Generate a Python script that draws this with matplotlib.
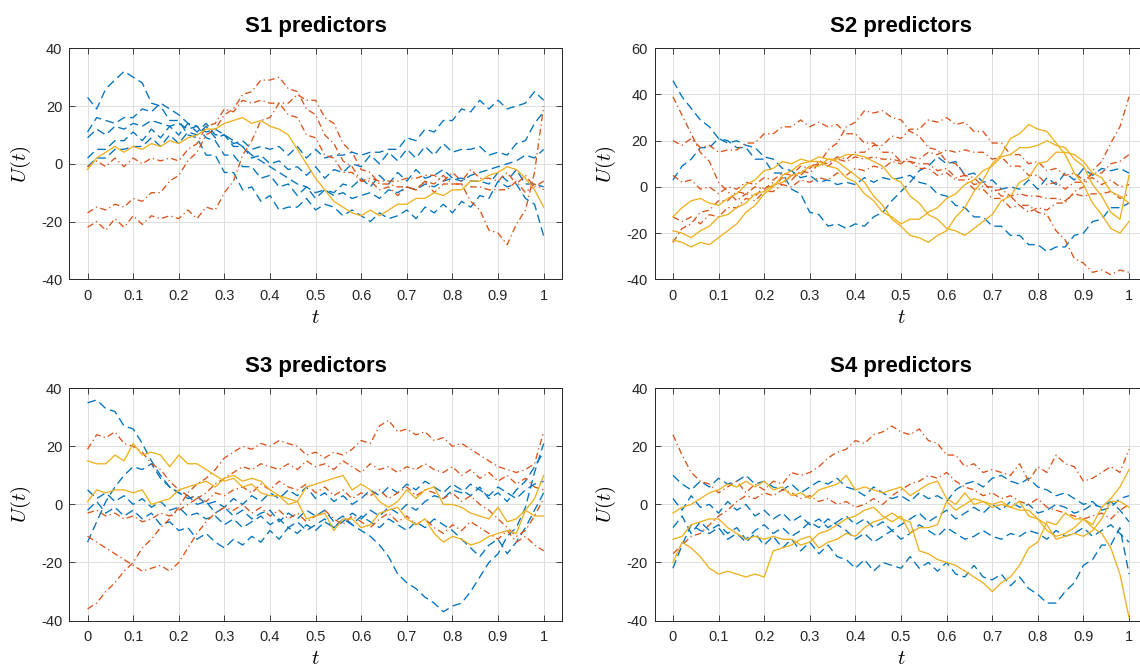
import numpy as np
import matplotlib
matplotlib.use('Agg')
import matplotlib.pyplot as plt

plt.rcParams['font.family'] = ['Liberation Sans', 'DejaVu Sans']
plt.rcParams['mathtext.fontset'] = 'cm'
plt.rcParams['axes.unicode_minus'] = False

BLUE = '#0072BD'
ORANGE = '#D95319'
YELLOW = '#EDB120'

titles = ['S1 predictors', 'S2 predictors', 'S3 predictors', 'S4 predictors']
xticks = [0, 0.1, 0.2, 0.3, 0.4, 0.5, 0.6, 0.7, 0.8, 0.9, 1.0]
xtick_labels = ['0', '0.1', '0.2', '0.3', '0.4', '0.5', '0.6', '0.7', '0.8', '0.9', '1']
yticks_s1 = [-40, -20, 0, 20, 40]
yticks_s2 = [-40, -20, 0, 20, 40, 60]

# ---------------- S1 ----------------
s1_blue = [
    [23, 19, 26, 29, 32, 30, 28, 21, 20, 15, 15, 10, 9, 3, 3, -3, -3, -9, -8, -13, -11, -16, -15, -15, -12, -16, -14, -15, -18, -16,
     -18, -20, -17, -19, -18, -16, -19, -15, -17, -14, -17, -13, -15, -11, -12, -6, -8, -7, -12, -14, -25],
    [11, 16, 15, 14, 16, 16, 19, 18, 21, 19, 17, 14, 13, 9, 8, 3, 3, -1, -1, -5, -4, -8, -7, -11, -8, -12, -9, -10, -7, -8,
     -5, -8, -4, -7, -3, -6, -2, -5, -4, -2, -5, -5, -6, -6, -7, -3, -6, -2, -7, -7, -8],
    [2, 5, 5, 8, 8, 11, 8, 12, 9, 13, 10, 14, 11, 14, 10, 10, 6, 6, 2, 3, 0, 1, -2, -1, -4, -1, -5, -2, -3, 0,
     -1, 3, 0, 4, 1, 5, 2, 6, 3, 7, 4, 5, 5, 6, 3, 4, 3, 7, 8, 14, 18],
    [-1, 2, 2, 5, 5, 6, 6, 9, 6, 10, 7, 11, 10, 13, 9, 10, 7, 8, 5, 6, 5, 6, 3, 6, 2, 5, 2, 3, 3, 4,
     3, 4, 4, 5, 5, 9, 8, 12, 11, 15, 15, 19, 18, 22, 19, 22, 19, 20, 21, 25, 22],
    [9, 12, 10, 13, 12, 14, 13, 15, 14, 13, 14, 12, 13, 11, 12, 10, 8, 6, 3, 1, -1, -3, -5, -7, -8, -10, -9, -11, -10, -12,
     -11, -10, -12, -9, -10, -8, -9, -7, -8, -6, -5, -6, -4, -3, -2, -1, 0, 1, 3, 2, 5],
]
s1_orange = [
    [-17, -15, -16, -14, -15, -12, -13, -10, -10, -6, -4, 1, 4, 10, 12, 17, 19, 24, 25, 29, 29, 30, 26, 25, 19, 17, 10, 7, 1, -1,
     -6, -6, -9, -8, -11, -8, -9, -6, -7, -4, -7, -7, -13, -16, -23, -24, -28, -21, -16, -3, 20],
    [-1, 1, -1, 2, -1, 2, 0, 2, 1, 2, 1, 5, 7, 13, 14, 19, 18, 22, 21, 22, 21, 21, 17, 16, 10, 9, 3, 2, -3, -3,
     -6, -5, -6, -6, -6, -5, -5, -4, -4, -6, -3, -6, -2, -5, -5, -6, -3, -7, -4, -8, -6],
    [-22, -20, -23, -19, -22, -18, -21, -18, -19, -18, -19, -16, -19, -15, -16, -10, -6, 3, 8, 15, 16, 21, 21, 24, 22, 22, 16, 14, 7, 4,
     -2, -3, -7, -7, -8, -8, -9, -6, -10, -7, -7, -7, -8, -8, -9, -9, -9, -6, -10, -7, -9],
]
s1_yellow = [
    [-2, 2, 4, 6, 4, 6, 5, 7, 6, 8, 7, 9, 10, 12, 12, 14, 15, 16, 14, 15, 13, 12, 10, 5, 0, -5, -9, -13, -15, -17,
     -18, -16, -18, -16, -14, -14, -12, -12, -10, -11, -9, -9, -6, -6, -4, -3, -1, -2, -5, -9, -15],
]

# ---------------- S2 ----------------
s2_blue = [
    [46, 39, 34, 29, 26, 21, 20, 17, 17, 12, 12, 6, 6, -1, -3, -11, -12, -17, -16, -18, -16, -17, -13, -11, -6, -2, 2, 7, 9, 13,
     10, 11, 5, 6, 2, 3, -1, 0, -1, 3, -1, 4, 1, 6, 3, 8, 5, 8, 7, 8, 6],
    [3, 9, 12, 17, 17, 21, 19, 20, 18, 17, 13, 12, 8, 7, 4, 5, 2, 3, 1, 2, 1, 4, 2, 4, 3, 4, 5, 2, 1, -3,
     -4, -8, -9, -13, -13, -17, -17, -21, -21, -25, -25, -28, -26, -26, -21, -20, -15, -14, -9, -9, -7],
]
s2_orange = [
    [39, 31, 23, 15, 11, 2, -2, -6, -3, -4, 0, 0, 4, 3, 7, 6, 10, 9, 12, 11, 13, 12, 13, 12, 12, 11, 11, 10, 10, 7,
     8, 4, 5, 1, 2, -2, -1, -4, -3, -4, -4, -5, -5, -6, -3, -4, -3, -3, -2, -5, -3],
    [-24, -18, -16, -11, -10, -6, -6, -2, -3, 0, -1, 2, 1, 5, 5, 9, 10, 16, 19, 26, 28, 33, 32, 33, 30, 29, 24, 22, 17, 16,
     11, 10, 5, 4, 0, 0, -4, -4, -8, -8, -11, -12, -19, -23, -31, -33, -37, -36, -38, -36, -37],
    [20, 18, 21, 17, 18, 15, 16, 16, 19, 19, 23, 23, 26, 26, 29, 26, 28, 26, 27, 23, 23, 19, 19, 15, 15, 11, 11, 8, 8, 5,
     6, 3, 3, -1, -1, -5, -5, -9, -8, -11, -9, -10, -7, -7, -2, 0, 7, 11, 19, 26, 39],
    [5, 2, 3, -1, 0, -3, 0, -1, 2, 1, 4, 3, 6, 5, 9, 8, 11, 10, 13, 12, 15, 15, 18, 18, 22, 21, 25, 25, 29, 28,
     30, 27, 28, 24, 24, 19, 19, 14, 14, 10, 11, 7, 8, 5, 6, 3, 4, 1, 3, 0, 1],
    [-13, -15, -13, -16, -12, -13, -9, -9, -5, -6, -2, -2, 1, 0, 3, 2, 4, 3, 6, 5, 8, 7, 9, 8, 11, 10, 13, 12, 15, 14,
     16, 15, 16, 15, 15, 12, 13, 9, 9, 5, 5, 1, 2, -1, 2, 2, 6, 6, 10, 11, 14],
]
s2_yellow = [
    [-23, -24, -26, -24, -25, -22, -19, -16, -11, -8, -3, 0, 5, 7, 10, 11, 13, 12, 11, 8, 5, 2, -4, -8, -14, -17, -21, -22, -24, -21,
     -19, -13, -9, -2, 3, 10, 14, 21, 23, 27, 25, 24, 19, 14, 6, 1, -7, -12, -18, -20, -15],
    [-13, -9, -6, -5, -7, -8, -5, -3, 1, 3, 7, 8, 11, 10, 12, 11, 11, 9, 8, 4, 2, -3, -6, -11, -13, -16, -14, -14, -11, -9,
     -5, -3, 1, 3, 7, 9, 13, 14, 17, 17, 18, 20, 18, 17, 12, 9, 1, -4, -11, -14, 5],
    [-19, -20, -22, -19, -17, -13, -12, -9, -7, -3, -2, 1, 2, 5, 6, 9, 9, 12, 12, 14, 14, 13, 11, 9, 4, 2, -4, -7, -12, -14,
     -18, -19, -21, -18, -15, -12, -6, -4, 2, 4, 10, 11, 15, 15, 14, 11, 6, 4, -2, -4, -7],
]

# ---------------- S3 ----------------
s3_blue = [
    [35, 36, 33, 32, 27, 26, 21, 15, 10, 6, 4, 3, 0, 1, -3, -1, -4, -2, -5, -3, -2, -6, -3, -5, -2, -4, -2, -6, -4, -7,
     -9, -11, -14, -18, -24, -27, -29, -32, -34, -37, -35, -34, -30, -25, -20, -17, -11, -8, -1, 11, 21],
    [-13, -6, 1, 6, 10, 13, 12, 14, 9, 6, 4, 2, 3, 0, 1, -1, 2, 0, 3, 1, 4, 2, 5, 3, 6, 2, 4, 1, 3, 0,
     2, 5, 3, 6, 4, 7, 5, 8, 6, 4, 7, 5, 3, 6, 2, 4, 1, 5, 8, 13, 18],
    [5, 2, 4, 1, 3, 0, 2, -1, 1, -2, -1, -4, -3, -5, -4, -7, -5, -8, -6, -4, -7, -5, -8, -6, -9, -7, -5, -8, -6, -3,
     -5, -2, -4, -1, -3, 0, -2, 1, 3, 2, 5, 4, 7, 5, 3, 6, 4, 2, 5, 7, 8],
    [-2, 1, -3, -1, -4, -2, -5, -3, -7, -6, -9, -8, -12, -10, -13, -15, -12, -14, -11, -13, -9, -12, -8, -10, -7, -9, -6, -8, -5, -7,
     -4, -6, -8, -5, -7, -9, -6, -8, -5, -7, -9, -12, -15, -18, -14, -12, -17, -13, -8, -2, 4],
]
s3_orange = [
    [-36, -34, -30, -27, -23, -20, -15, -12, -8, -5, -1, 4, 7, 9, 12, 16, 18, 20, 19, 21, 20, 22, 21, 20, 17, 18, 16, 18, 17, 19,
     22, 21, 27, 29, 25, 26, 24, 25, 22, 23, 20, 21, 19, 17, 15, 13, 12, 11, 12, 14, 25],
    [19, 24, 23, 25, 21, 20, 18, 14, 12, 8, 5, 3, 2, 4, 7, 9, 11, 13, 12, 14, 13, 12, 14, 12, 15, 13, 14, 12, 15, 13,
     11, 14, 12, 13, 11, 13, 12, 14, 12, 11, 13, 10, 12, 9, 11, 8, 10, 7, 9, 6, 5],
    [-3, -2, -4, -3, -5, -4, -6, -5, -3, -4, -2, 0, 2, 1, 4, 3, 5, 6, 4, 7, 5, 8, 6, 5, 7, 4, 6, 3, 5, 2,
     4, 3, 5, 2, 4, 6, 3, 5, 4, 2, 4, 1, 3, 0, -2, -5, -8, -11, -9, -4, 2],
    [-11, -13, -15, -17, -19, -21, -23, -22, -21, -23, -20, -15, -10, -6, -3, -1, -2, 0, -3, -1, -4, -2, -5, -3, -6, -4, -2, -5, -7, -4,
     -6, -8, -5, -3, -6, -4, -7, -5, -8, -10, -7, -9, -6, -8, -10, -12, -9, -13, -11, -14, -16],
]
s3_yellow = [
    [15, 14, 14, 17, 15, 21, 17, 18, 17, 13, 17, 14, 14, 12, 10, 8, 9, 6, 7, 4, 3, 3, 0, 1, 6, 7, 8, 9, 10, 5,
     7, 5, 1, -1, 1, 5, 2, 5, 6, 0, 0, -1, -3, -4, -5, -1, -6, -5, -2, -4, -4],
    [1, 5, 4, 5, 5, 4, 5, 0, 1, 2, 5, 6, 7, 8, 6, 9, 10, 8, 9, 8, 5, 3, 2, 1, -5, -4, -3, -9, -5, -5,
     -8, -7, -3, -2, -1, -5, -7, -5, -10, -13, -11, -12, -14, -13, -11, -10, -9, -10, -2, 2, 10],
]

# ---------------- S4 ----------------
s4_blue = [
    [10, 7, 5, 8, 6, 9, 7, 8, 10, 7, 8, 6, 5, 7, 4, 6, 8, 7, 9, 6, 5, 3, 6, 4, 2, 3, 1, 4, 2, 3,
     1, 5, 7, 8, 6, 9, 10, 8, 7, 9, 6, 5, 3, 4, 2, 0, 1, -2, -1, 2, 3],
    [2, -2, 3, -1, 0, -3, 1, -2, 0, -4, -2, -5, -3, -6, -4, -7, -5, -8, -6, -4, -7, -5, -8, -6, -9, -7, -5, -3, -6, -4,
     -2, -5, -3, -1, -3, 0, -2, 1, -1, 0, -3, -2, 0, -1, -3, -2, 0, -1, 1, -2, -6],
    [-8, -4, -10, -6, -9, -7, -10, -8, -12, -9, -7, -10, -8, -11, -9, -6, -8, -5, -7, -9, -12, -10, -13, -11, -9, -12, -10, -7, -9, -11,
     -8, -10, -12, -11, -9, -11, -12, -10, -11, -9, -10, -12, -9, -11, -10, -8, -11, -9, -7, -10, -13],
    [-22, -14, -7, -9, -10, -8, -12, -10, -13, -10, -14, -11, -15, -12, -16, -13, -17, -14, -18, -19, -22, -19, -23, -20, -21, -22, -18, -22, -20, -23,
     -20, -24, -25, -21, -25, -26, -24, -28, -25, -29, -31, -34, -34, -30, -27, -21, -19, -14, -14, -8, -24],
]
s4_orange = [
    [24, 17, 11, 8, 7, 4, 6, 8, 4, 7, 5, 8, 7, 11, 10, 11, 13, 16, 18, 19, 22, 21, 24, 25, 27, 25, 24, 26, 22, 21,
     17, 17, 13, 14, 11, 12, 11, 10, 14, 8, 13, 11, 17, 14, 13, 8, 9, 11, 13, 11, 19],
    [-17, -14, -11, -10, -7, -4, -2, 1, 3, 2, 4, 3, 5, 4, 2, 3, 1, 2, 0, 1, -1, 0, 2, 0, 3, 5, 7, 8, 10, 9,
     11, 8, 6, 5, 3, 4, 2, 3, 1, 0, 2, -1, -2, -3, -4, -5, -4, -3, -5, -2, 0],
]
s4_yellow = [
    [-3, -1, 0, 2, 4, 5, 7, 6, 8, 6, 8, 5, 6, 3, 4, 2, 5, 6, 7, 10, 5, 6, 5, 4, 5, 6, 3, 5, 7, 8,
     2, 0, 4, 0, 1, 0, 1, -1, 1, -4, -5, -9, -11, -10, -8, -5, -7, -1, 2, 6, 12],
    [-12, -11, -7, -6, -5, -5, -8, -10, -12, -11, -12, -11, -12, -12, -14, -13, -10, -9, -7, -5, -4, -2, -1, -4, -6, -4, -10, -8, -8, -7,
     1, -2, 0, 2, 1, -1, 0, -1, -2, -2, -5, -7, -12, -11, -10, -11, -9, -5, 1, 1, -1],
    [-20, -13, -15, -18, -22, -24, -23, -24, -25, -24, -25, -16, -15, -14, -12, -11, -15, -13, -12, -10, -11, -8, -6, -5, -3, -5, -6, -16, -17, -19,
     -20, -21, -23, -25, -27, -30, -27, -25, -21, -15, -13, -6, -7, -3, -5, -5, -8, -10, -15, -24, -39],
]

panels = [
    (titles[0], s1_blue, s1_orange, s1_yellow, (-40, 40), yticks_s1),
    (titles[1], s2_blue, s2_orange, s2_yellow, (-40, 60), yticks_s2),
    (titles[2], s3_blue, s3_orange, s3_yellow, (-40, 40), yticks_s1),
    (titles[3], s4_blue, s4_orange, s4_yellow, (-40, 40), yticks_s1),
]

positions = [
    [0.0608, 0.5819, 0.4321, 0.3458],
    [0.5743, 0.5819, 0.4321, 0.3458],
    [0.0608, 0.0711, 0.4321, 0.3476],
    [0.5743, 0.0711, 0.4321, 0.3476],
]

fig = plt.figure(figsize=(11.4, 6.68), dpi=100)
AX_COL = '#262626'
LW = 0.95
for (title, blues, oranges, yellows, ylim, yticks), pos in zip(panels, positions):
    ax = fig.add_axes(pos)
    for v in blues:
        t = np.linspace(0, 1, len(v))
        ax.plot(t, v, color=BLUE, lw=LW, linestyle=(0, (6.5, 3.5)))
    for v in oranges:
        t = np.linspace(0, 1, len(v))
        ax.plot(t, v, color=ORANGE, lw=LW, linestyle=(0, (5, 2.5, 1, 2.5)))
    for v in yellows:
        t = np.linspace(0, 1, len(v))
        ax.plot(t, v, color=YELLOW, lw=LW, linestyle='-')
    ax.set_xlim(-0.04, 1.04)
    ax.set_ylim(*ylim)
    ax.set_xticks(xticks)
    ax.set_xticklabels(xtick_labels)
    ax.set_yticks(yticks)
    ax.set_yticklabels([str(y) for y in yticks])
    ax.grid(True, color='#dfdfdf', lw=0.7)
    ax.set_axisbelow(True)
    ax.tick_params(direction='in', top=True, right=True, length=4, width=0.6,
                   colors=AX_COL, labelsize=10.5)
    ax.tick_params(axis='x', pad=7)
    ax.tick_params(axis='y', pad=5)
    for s in ax.spines.values():
        s.set_color(AX_COL)
        s.set_linewidth(0.7)
    ax.set_title(title, fontsize=16, fontweight='bold', pad=12, color='black')
    ax.set_xlabel(r'$t$', fontsize=15, labelpad=3.5)
    ax.set_ylabel(r'$U(t)$', fontsize=15, labelpad=6)

fig.savefig('out.png', dpi=100)
